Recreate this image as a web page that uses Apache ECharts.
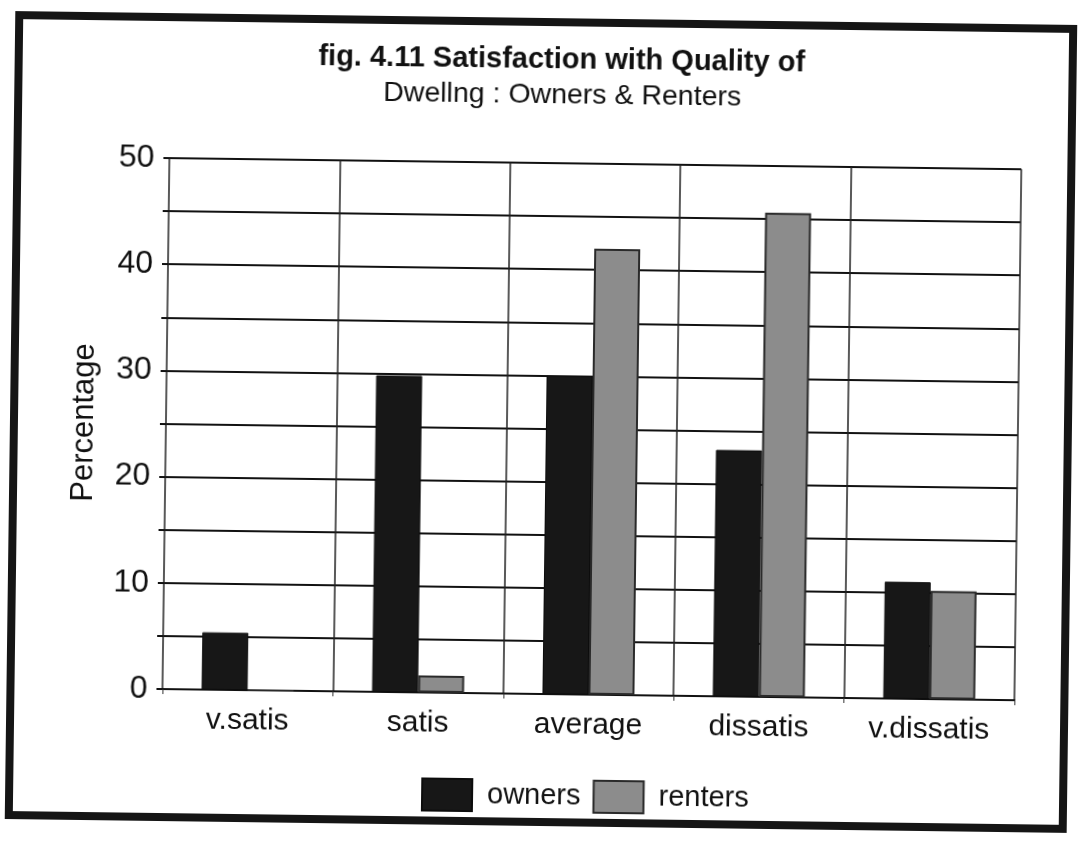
<!DOCTYPE html>
<html>
<head>
<meta charset="utf-8">
<script src="https://cdn.jsdelivr.net/npm/echarts@6/dist/echarts.min.js"></script>
<style>
  html, body { margin: 0; padding: 0; background: #fff; overflow: hidden; }
  #chart { width: 1085px; height: 842px; transform: rotate(0.75deg); transform-origin: 542px 421px; }
</style>
</head>
<body>
<div id="chart"></div>
<script>
// Satisfaction with quality of dwelling, percentage by tenure
const categories = ['v.satis', 'satis', 'average', 'dissatis', 'v.dissatis'];
const owners = [5.4, 29.8, 30.0, 23.2, 11.0];
const renters = [0, 1.6, 42.0, 45.6, 10.2];
const seriesNames = ['owners', 'renters'];
const titleText = 'fig. 4.11 Satisfaction with Quality of';
const subtitleText = 'Dwellng : Owners & Renters';
const yAxisName = 'Percentage';

const FONT = '"Liberation Sans", Arial, Helvetica, sans-serif';
const chart = echarts.init(document.getElementById('chart'), null, { renderer: 'canvas' });

chart.setOption({
  animation: false,
  backgroundColor: '#ffffff',
  textStyle: { fontFamily: FONT, color: '#111' },
  title: [
    {
      text: titleText,
      left: 552, top: 40, textAlign: 'center',
      textStyle: { fontFamily: FONT, fontSize: 29, fontWeight: 'bold', color: '#111' }
    },
    {
      text: subtitleText,
      left: 553, top: 76, textAlign: 'center',
      textStyle: { fontFamily: FONT, fontSize: 28.5, fontWeight: 'normal', color: '#111' }
    }
  ],
  graphic: [
    {
      type: 'rect', silent: true, z: 100,
      shape: { x: 14, y: 22, width: 1054, height: 800 },
      style: { fill: 'none', stroke: '#151515', lineWidth: 8 }
    }
  ],
  legend: {
    data: seriesNames,
    left: 421, top: 774,
    icon: 'rect', itemWidth: 50, itemHeight: 32, itemGap: 12,
    textStyle: { fontFamily: FONT, fontSize: 29, color: '#111', padding: [0, 0, 0, 10] }
  },
  grid: { left: 166, right: 67, top: 163, bottom: 148, containLabel: false },
  xAxis: {
    type: 'category',
    data: categories,
    boundaryGap: true,
    axisLine: { show: true, lineStyle: { color: '#111', width: 2 } },
    axisTick: { show: true, length: 5, lineStyle: { color: '#333', width: 1 } },
    axisLabel: { fontFamily: FONT, fontSize: 30, color: '#111', margin: 16 },
    splitLine: { show: true, lineStyle: { color: '#222', width: 1.5 } }
  },
  yAxis: {
    type: 'value',
    min: 0, max: 50, interval: 5,
    name: yAxisName,
    nameLocation: 'middle',
    nameGap: 66,
    nameTextStyle: { fontFamily: FONT, fontSize: 31, color: '#111' },
    axisLine: { show: false },
    axisTick: { show: true, length: 6, lineStyle: { color: '#111', width: 2 } },
    axisLabel: {
      fontFamily: FONT, fontSize: 32, color: '#111', margin: 15,
      formatter: v => (v % 10 === 0 ? String(v) : '')
    },
    splitLine: { show: true, lineStyle: { color: '#111', width: 2 } }
  },
  series: [
    {
      name: seriesNames[0],
      type: 'bar',
      data: owners,
      barWidth: 46,
      barGap: '0%',
      itemStyle: { color: '#171717', borderColor: '#0c0c0c', borderWidth: 1 }
    },
    {
      name: seriesNames[1],
      type: 'bar',
      data: renters,
      barWidth: 46,
      barGap: '0%',
      itemStyle: { color: '#8c8c8c', borderColor: '#2a2a2a', borderWidth: 2 }
    }
  ]
});
</script>
</body>
</html>
